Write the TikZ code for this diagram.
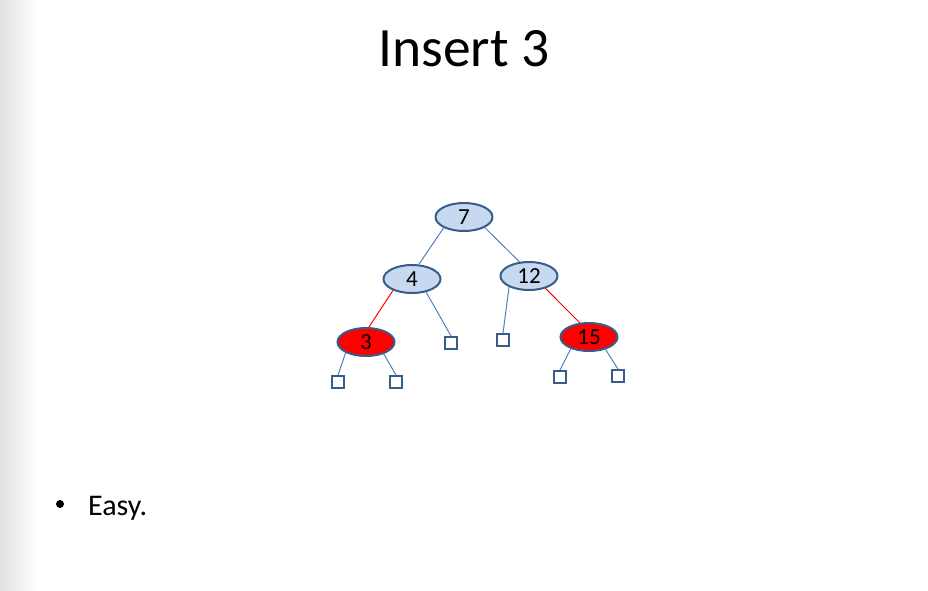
\documentclass[tikz,border=0pt]{standalone}
\usepackage{fontspec}
\setmainfont{Carlito}
\usetikzlibrary{shapes.geometric}
\definecolor{nodefill}{RGB}{198,217,240}
\definecolor{nodeline}{RGB}{56,93,138}
\definecolor{edgeblue}{RGB}{79,129,189}
\definecolor{redfill}{RGB}{255,0,0}
\tikzset{
  treenode/.style={ellipse, draw=nodeline, line width=2pt, minimum width=57pt,
    minimum height=28pt, inner sep=0pt, font=\fontsize{23}{23}\selectfont},
  blacknode/.style={treenode, fill=nodefill},
  rednode/.style={treenode, fill=redfill},
  leafbox/.style={rectangle, draw=nodeline, line width=2pt, fill=white,
    minimum size=12pt, inner sep=0pt},
  blackedge/.style={draw=edgeblue, line width=1pt},
  rededge/.style={draw=red, line width=1pt}
}
\begin{document}
\begin{tikzpicture}[x=1pt,y=-1pt]
  \useasboundingbox (0,0) rectangle (928,590);
  % soft shadow along the left edge of the slide
  \shade[left color=black!12, right color=white, draw=none] (0,0) rectangle (36,590);

  % title
  \node[anchor=base, font=\fontsize{55.5}{55.5}\selectfont, inner sep=0pt] (title) at (464,66.5) {Insert 3};

  % tree nodes
  \node[blacknode] (n7)  at (464,217) {7};
  \node[blacknode] (n4)  at (412,279) {4};
  \node[blacknode] (n12) at (529,276) {12};
  \node[rednode]   (n3)  at (366,342) {3};
  \node[rednode]   (n15) at (589,337) {15};

  % external leaves
  \node[leafbox] (l4)   at (451,343) {};
  \node[leafbox] (l12)  at (503,340) {};
  \node[leafbox] (l3a)  at (338,382) {};
  \node[leafbox] (l3b)  at (396,382) {};
  \node[leafbox] (l15a) at (560,377) {};
  \node[leafbox] (l15b) at (618,376) {};

  % edges
  \path[blackedge] (n7.-152) -- (n4.65);
  \path[blackedge] (n7.-27) -- (n12.124);
  \path[rededge]   (n4.-149) -- (n3.79);
  \path[blackedge] (n4.-43) -- (l4.north);
  \path[blackedge] (n12.-151) -- (l12.north);
  \path[rededge]   (n12.-37) -- (n15.123);
  \path[blackedge] (n3.-152) -- (l3a.north);
  \path[blackedge] (n3.-34) -- (l3b.north);
  \path[blackedge] (n15.-147) -- (l15a.north);
  \path[blackedge] (n15.-37) -- (l15b.north);

  % bullet text
  \node[circle, fill=black, inner sep=0pt, minimum size=8pt] (bul) at (60,504) {};
  \node[anchor=base west, font=\fontsize{30}{30}\selectfont, inner sep=0pt] (easy) at (88,515) {Easy.};
\end{tikzpicture}
\end{document}
